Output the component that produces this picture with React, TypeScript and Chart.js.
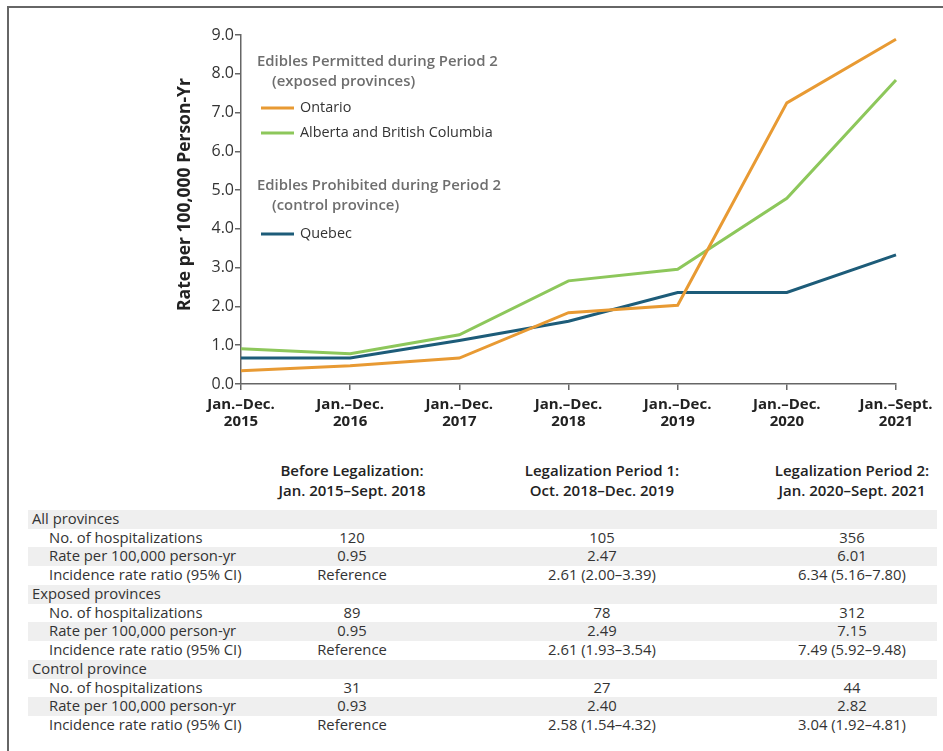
import React, { useEffect, useRef } from "react";
import { Chart, registerables } from "chart.js";

Chart.register(...registerables);

const FONT = "'Open Sans', Lato, sans-serif";

// ---- Chart data ----
const categories: string[][] = [
  ["Jan.–Dec.", "2015"],
  ["Jan.–Dec.", "2016"],
  ["Jan.–Dec.", "2017"],
  ["Jan.–Dec.", "2018"],
  ["Jan.–Dec.", "2019"],
  ["Jan.–Dec.", "2020"],
  ["Jan.–Sept.", "2021"],
];
const ontario = [0.34, 0.47, 0.67, 1.84, 2.03, 7.25, 8.89];
const albertaBC = [0.91, 0.78, 1.27, 2.66, 2.96, 4.79, 7.84];
const quebec = [0.67, 0.67, 1.12, 1.62, 2.36, 2.36, 3.33];
const yTickLabels = ["0.0", "1.0", "2.0", "3.0", "4.0", "5.0", "6.0", "7.0", "8.0", "9.0"];
const yTitle = "Rate per 100,000 Person-Yr";

const seriesNames = ["Ontario", "Alberta and British Columbia", "Quebec"];
const seriesColors = ["#E89A33", "#8DC75B", "#1D5C79"];
const legendHeadings = [
  ["Edibles Permitted during Period 2", "(exposed provinces)"],
  ["Edibles Prohibited during Period 2", "(control province)"],
];

// ---- Table data ----
const periodHeaders: string[][] = [
  ["Before Legalization:", "Jan. 2015–Sept. 2018"],
  ["Legalization Period 1:", "Oct. 2018–Dec. 2019"],
  ["Legalization Period 2:", "Jan. 2020–Sept. 2021"],
];
const groups = ["All provinces", "Exposed provinces", "Control province"];
const measures = ["No. of hospitalizations", "Rate per 100,000 person-yr", "Incidence rate ratio (95% CI)"];
const allProvinces = [
  ["120", "105", "356"],
  ["0.95", "2.47", "6.01"],
  ["Reference", "2.61 (2.00–3.39)", "6.34 (5.16–7.80)"],
];
const exposedProvinces = [
  ["89", "78", "312"],
  ["0.95", "2.49", "7.15"],
  ["Reference", "2.61 (1.93–3.54)", "7.49 (5.92–9.48)"],
];
const controlProvince = [
  ["31", "27", "44"],
  ["0.93", "2.40", "2.82"],
  ["Reference", "2.58 (1.54–4.32)", "3.04 (1.92–4.81)"],
];
const groupValues = [allProvinces, exposedProvinces, controlProvince];

const legendPlugin = {
  id: "customLegend",
  afterDraw(chart: any) {
    const ctx = chart.ctx;
    const { left, top, bottom } = chart.chartArea;
    ctx.save();
    ctx.textBaseline = "middle";
    // y-axis title
    ctx.save();
    ctx.translate(left - 56, (top + bottom) / 2 - 15);
    ctx.rotate(-Math.PI / 2);
    ctx.textAlign = "center";
    ctx.font = `bold 17.5px ${FONT}`;
    ctx.fillStyle = "#222";
    ctx.fillText(yTitle, 0, 0);
    ctx.restore();

    const drawHeading = (lines: string[], y: number) => {
      ctx.font = `600 14.9px ${FONT}`;
      ctx.fillStyle = "#6e6e6e";
      ctx.fillText(lines[0], left + 16, y);
      ctx.fillText(lines[1], left + 31, y + 20);
    };
    const drawItem = (i: number, y: number) => {
      ctx.strokeStyle = seriesColors[i];
      ctx.lineWidth = 3;
      ctx.beginPath();
      ctx.moveTo(left + 20, y);
      ctx.lineTo(left + 53, y);
      ctx.stroke();
      ctx.font = `14.4px ${FONT}`;
      ctx.fillStyle = "#333";
      ctx.fillText(seriesNames[i], left + 59, y);
    };
    drawHeading(legendHeadings[0], top + 27);
    drawItem(0, top + 73);
    drawItem(1, top + 98);
    drawHeading(legendHeadings[1], top + 151);
    drawItem(2, top + 199);
    ctx.restore();
  },
};

function LineChart() {
  const ref = useRef<HTMLCanvasElement>(null);
  useEffect(() => {
    if (!ref.current) return;
    const axisColor = "#666";
    const chart = new Chart(ref.current, {
      type: "line",
      data: {
        labels: categories,
        datasets: [
          { label: seriesNames[0], data: ontario, borderColor: seriesColors[0] },
          { label: seriesNames[1], data: albertaBC, borderColor: seriesColors[1] },
          { label: seriesNames[2], data: quebec, borderColor: seriesColors[2] },
        ].map((d) => ({ ...d, borderWidth: 3, pointRadius: 0, tension: 0, fill: false })),
      },
      options: {
        animation: false,
        responsive: false,
        maintainAspectRatio: false,
        layout: { padding: { left: 176, right: 47, top: 35, bottom: 16 } },
        plugins: { legend: { display: false }, tooltip: { enabled: false } },
        scales: {
          x: {
            type: "category",
            offset: false,
            grid: { display: true, drawOnChartArea: false, drawTicks: true, tickLength: 6, color: axisColor, lineWidth: 1.5 },
            border: { display: true, color: axisColor, width: 1.5 },
            ticks: { font: { family: FONT, size: 15, weight: "bold", lineHeight: 1.15 }, color: "#222", maxRotation: 0, autoSkip: false, padding: 6 },
            afterFit: (s: any) => { s.height = 50; },
          },
          y: {
            min: 0,
            max: 9,
            grid: { display: true, drawOnChartArea: false, drawTicks: true, tickLength: 6, color: axisColor, lineWidth: 1.5 },
            border: { display: true, color: axisColor, width: 1.5 },
            ticks: {
              stepSize: 1,
              font: { family: FONT, size: 16 },
              color: "#333",
              padding: 1,
              callback: (v: any) => yTickLabels[Math.round(Number(v))],
            },
            title: { display: false },
            afterFit: (s: any) => { s.width = 65; },
          },
        },
      },
      plugins: [legendPlugin],
    } as any);
    return () => chart.destroy();
  }, []);
  return <canvas ref={ref} width={943} height={450} style={{ position: "absolute", left: 0, top: 0, width: 943, height: 450 }} />;
}

const ROW_H = 18.73;
const COL_CENTERS = [352, 602, 852];

function DataTable() {
  const rows: { label: string; indent: boolean; values: string[] | null }[] = [];
  groups.forEach((g, gi) => {
    rows.push({ label: g, indent: false, values: null });
    measures.forEach((m, mi) => rows.push({ label: m, indent: true, values: groupValues[gi][mi] }));
  });
  const textStyle: React.CSSProperties = { fontFamily: FONT, fontSize: 14.8, color: "#333", whiteSpace: "nowrap" };
  return (
    <>
      {periodHeaders.map((h, i) => (
        <div key={i} style={{ ...textStyle, fontSize: 15, position: "absolute", left: COL_CENTERS[i] - 125, width: 250, top: 460, textAlign: "center", fontWeight: 600, lineHeight: "20px", color: "#222" }}>
          <div>{h[0]}</div>
          <div>{h[1]}</div>
        </div>
      ))}
      {rows.map((r, ri) => (
        <div key={ri} style={{ position: "absolute", left: 28, width: 909, top: 510 + ri * ROW_H, height: ROW_H, background: ri % 2 === 0 ? "#efefef" : "transparent" }}>
          <div style={{ ...textStyle, position: "absolute", left: r.indent ? 21 : 4, top: -1, lineHeight: `${ROW_H}px` }}>{r.label}</div>
          {r.values && r.values.map((v, vi) => (
            <div key={vi} style={{ ...textStyle, position: "absolute", left: COL_CENTERS[vi] - 28 - 125, width: 250, textAlign: "center", top: -1, lineHeight: `${ROW_H}px` }}>{v}</div>
          ))}
        </div>
      ))}
    </>
  );
}

export default function App() {
  return (
    <div style={{ position: "fixed", left: 0, top: 0, width: 943, height: 751, overflow: "hidden", background: "#fff" }}>
      <div style={{ position: "absolute", left: 7, top: 6, right: 0, bottom: 0, borderTop: "2px solid #666", borderLeft: "2px solid #666" }} />
      <LineChart />
      <DataTable />
    </div>
  );
}
